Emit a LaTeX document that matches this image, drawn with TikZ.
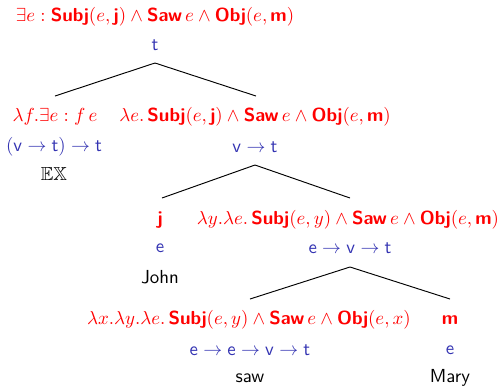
\documentclass[tikz,border=0pt]{standalone}
\usepackage{amssymb}
\definecolor{semred}{RGB}{255,0,0}
\definecolor{typeblue}{RGB}{51,51,178}
\newcommand{\cn}[1]{\textsf{\textbf{#1}}}
\begin{document}
\begin{tikzpicture}[x=0.53pt,y=-0.53pt,
  sem/.style={text=semred,font=\sffamily,inner sep=0pt,anchor=center},
  typ/.style={text=typeblue,font=\sffamily,inner sep=0pt,anchor=center},
  word/.style={text=black,font=\sffamily,inner sep=0pt,anchor=center},
  branch/.style={draw=black,line width=0.5pt}]
\useasboundingbox (0,0) rectangle (497,386);
% root
\node[sem] (rs) at (155,17) {$\exists e : \cn{Subj}(e,\cn{j}) \wedge \cn{Saw}\,e \wedge \cn{Obj}(e,\cn{m})$};
\node[typ] (rt) at (155,45) {$\mathsf{t}$};
% EX
\node[sem] (exs) at (55,117) {$\lambda f.\exists e : f\,e$};
\node[typ] (ext) at (54,147) {$(\mathsf{v}\to\mathsf{t})\to\mathsf{t}$};
\node[word] (exw) at (54,174) {$\mathbb{EX}$};
% VP
\node[sem] (vps) at (255,117) {$\lambda e.\,\cn{Subj}(e,\cn{j}) \wedge \cn{Saw}\,e \wedge \cn{Obj}(e,\cn{m})$};
\node[typ] (vpt) at (255,147) {$\mathsf{v}\to\mathsf{t}$};
% John
\node[sem] (js) at (160,220) {$\cn{j}$};
\node[typ] (jt) at (160,248) {$\mathsf{e}$};
\node[word] (jw) at (160,277) {John};
% V'
\node[sem] (vbs) at (348,220) {$\lambda y.\lambda e.\,\cn{Subj}(e,y) \wedge \cn{Saw}\,e \wedge \cn{Obj}(e,\cn{m})$};
\node[typ] (vbt) at (350,248) {$\mathsf{e}\to\mathsf{v}\to\mathsf{t}$};
% saw
\node[sem] (ss) at (249,320) {$\lambda x.\lambda y.\lambda e.\,\cn{Subj}(e,y) \wedge \cn{Saw}\,e \wedge \cn{Obj}(e,x)$};
\node[typ] (st) at (250,350) {$\mathsf{e}\to\mathsf{e}\to\mathsf{v}\to\mathsf{t}$};
\node[word] (sw) at (250,378) {saw};
% Mary
\node[sem] (ms) at (450,320) {$\cn{m}$};
\node[typ] (mt) at (450,350) {$\mathsf{e}$};
\node[word] (mw) at (450,378) {Mary};
% branches
\draw[branch] ([yshift=-18*0.53pt]rt.center) -- ([yshift=21*0.53pt]exs.center);
\draw[branch] ([yshift=-18*0.53pt]rt.center) -- ([yshift=21*0.53pt,xshift=0.53pt]vps.center);
\draw[branch] ([yshift=-18*0.53pt]vpt.center) -- ([yshift=22*0.53pt,xshift=2*0.53pt]js.center);
\draw[branch] ([yshift=-18*0.53pt]vpt.center) -- ([yshift=22*0.53pt,xshift=2*0.53pt]vbs.center);
\draw[branch] ([yshift=-19*0.53pt]vbt.center) -- ([yshift=21*0.53pt,xshift=0.53pt]ss.center);
\draw[branch] ([yshift=-19*0.53pt]vbt.center) -- ([yshift=21*0.53pt]ms.center);
\end{tikzpicture}
\end{document}
